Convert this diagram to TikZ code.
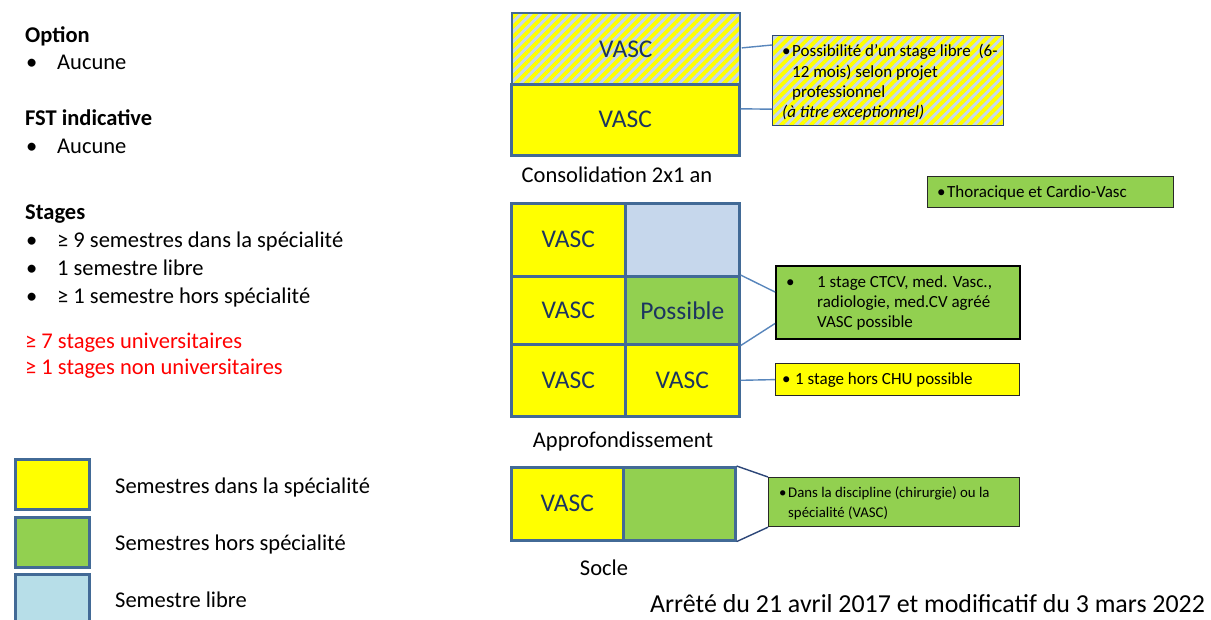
\documentclass[tikz,border=0pt]{standalone}
\usepackage{fontspec}
\setmainfont{Carlito}
\usetikzlibrary{patterns.meta}
\definecolor{vyellow}{RGB}{255,255,0}
\definecolor{vgreen}{RGB}{146,208,80}
\definecolor{vlblue}{RGB}{198,215,236}
\definecolor{vcyan}{RGB}{183,222,232}
\definecolor{vborder}{RGB}{66,106,150}
\definecolor{vtext}{RGB}{28,52,96}
\definecolor{vlink}{RGB}{88,134,188}
\definecolor{vlinkdark}{RGB}{44,70,120}
\definecolor{vred}{RGB}{255,0,0}
\definecolor{cborder}{RGB}{40,40,40}
\newcommand{\myfs}[1]{\fontsize{#1}{#1}\selectfont}
\begin{document}
\begin{tikzpicture}[x=1pt,y=-1pt,
  cell/.style={draw=vborder, line width=2.6pt, text=vtext, font=\myfs{25.5}, anchor=north west, inner sep=0pt},
  legbox/.style={draw=vborder, line width=2.6pt, anchor=north west, inner sep=0pt, minimum width=74pt},
  callbox/.style={draw=cborder, line width=1.2pt, anchor=north west, inner sep=0pt},
  hatch/.style={preaction={fill=vlblue}, pattern={Lines[angle=45,distance=7pt,line width=3.8pt]}, pattern color=vyellow},
  txt/.style={anchor=base west, inner sep=0pt},
  lab/.style={anchor=base, inner sep=0pt, font=\myfs{22.5}},
  link/.style={draw=vlink, line width=1.4pt},
  linkd/.style={draw=vlinkdark, line width=1.4pt}
]
\useasboundingbox (0,0) rectangle (1211,619);
\fill[white] (0,0) rectangle (1211,619);

% ---------- left column ----------
\begin{scope}[every node/.style={txt, font=\myfs{22.5}}]
\node[font=\myfs{22.5}\bfseries] (h1) at (25,42.5) {Option};
\node (b1) at (26,69) {•};
\node (t1) at (57,69) {Aucune};
\node[font=\myfs{22.5}\bfseries] (h2) at (25,125) {FST indicative};
\node (b2) at (26,153) {•};
\node (t2) at (57,153) {Aucune};
\node[font=\myfs{22.5}\bfseries] (h3) at (25,219) {Stages};
\node (b3) at (26,247) {•};
\node (t3) at (57,247) {≥ 9 semestres dans la spécialité};
\node (b4) at (26,275) {•};
\node (t4) at (57,275) {1 semestre libre};
\node (b5) at (26,303) {•};
\node (t5) at (57,303) {≥ 1 semestre hors spécialité};
\node[text=vred] (r1) at (25,348) {≥ 7 stages universitaires};
\node[text=vred] (r2) at (25,374) {≥ 1 stages non universitaires};
\end{scope}

% ---------- legend ----------
\node[legbox, fill=vyellow, minimum height=50pt] (l1) at (14,458) {};
\node[legbox, fill=vgreen, minimum height=50pt] (l2) at (14,516) {};
\node[legbox, fill=vcyan, minimum height=55pt] (l3) at (14,573) {};
\node[txt, font=\myfs{22.5}] (lt1) at (115,493) {Semestres dans la spécialité};
\node[txt, font=\myfs{22.5}] (lt2) at (115,550) {Semestres hors spécialité};
\node[txt, font=\myfs{22.5}] (lt3) at (115,607) {Semestre libre};

% ---------- consolidation ----------
\node[cell, hatch, minimum width=228pt, minimum height=72pt] (ctop) at (510,11) {VASC};
\node[cell, fill=vyellow, minimum width=228pt, minimum height=71pt] (cbot) at (510,83) {VASC};
\node[lab] (lcons) at (617,182) {Consolidation 2x1 an};

\node[callbox, hatch, draw=vlinkdark, minimum width=231pt, minimum height=90pt] (call1) at (772,35) {};
\begin{scope}[every node/.style={txt, font=\myfs{17}}]
\node (c1b) at (782,56) {•};
\node (c1a) at (792,56) {Possibilité d’un stage libre\ \ (6-};
\node (c1c) at (792,77) {12 mois) selon projet};
\node (c1d) at (792,97) {professionnel};
\node[font=\myfs{17}\itshape] (c1e) at (782,117) {(à titre exceptionnel)};
\end{scope}
\draw[link] ([yshift=1pt]ctop.east) -- ([yshift=-10pt]call1.north west);
\draw[link] ([yshift=11pt]cbot.east) -- ([yshift=17pt]call1.south west);

% ---------- thoracique ----------
\node[callbox, fill=vgreen, minimum width=246pt, minimum height=31pt] (thor) at (927,176) {};
\node[txt, font=\myfs{17}] (thb) at (937,197) {•};
\node[txt, font=\myfs{17}] (tht) at (947,197) {Thoracique et Cardio-Vasc};

% ---------- approfondissement ----------
\node[cell, fill=vyellow, minimum width=114pt, minimum height=73pt] (a11) at (510,202) {VASC};
\node[cell, fill=vlblue, minimum width=114pt, minimum height=73pt] (a12) at (624,202) {};
\node[cell, fill=vyellow, minimum width=114pt, minimum height=68pt] (a21) at (510,275) {VASC};
\node[cell, fill=vgreen, minimum width=114pt, minimum height=68pt] (a22) at (624,275) {Possible};
\node[cell, fill=vyellow, minimum width=114pt, minimum height=72pt] (a31) at (510,343) {VASC};
\node[cell, fill=vyellow, minimum width=114pt, minimum height=72pt] (a32) at (624,343) {VASC};
\node[lab] (lapp) at (623,447) {Approfondissement};

\node[callbox, fill=vgreen, line width=1.5pt, draw=black, minimum width=244pt, minimum height=73pt] (callg) at (775,265) {};
\begin{scope}[every node/.style={txt, font=\myfs{17}}]
\node (cgb) at (786,287) {•};
\node (cg1) at (817,287) {1 stage CTCV, med. Vasc.,};
\node (cg2) at (817,307) {radiologie, med.CV agréé};
\node (cg3) at (817,327) {VASC possible};
\end{scope}
\draw[link] (a22.north east) -- ([yshift=-27pt]callg.north west);
\draw[link] (a22.south east) -- ([yshift=16pt]callg.south west);

\node[callbox, fill=vyellow, minimum width=244pt, minimum height=32pt] (cally) at (775,363) {};
\node[txt, font=\myfs{17}] (cyb) at (782,384) {•};
\node[txt, font=\myfs{17}] (cyt) at (795,384) {1 stage hors CHU possible};
\draw[link] (a32.east) -- (cally.west);

% ---------- socle ----------
\node[cell, fill=vyellow, minimum width=112pt, minimum height=73pt] (s1) at (510,466) {VASC};
\node[cell, fill=vgreen, minimum width=112pt, minimum height=73pt] (s2) at (622,466) {};
\node[lab] (lsoc) at (604,575) {Socle};

\node[callbox, fill=vgreen, minimum width=251pt, minimum height=49pt] (calls) at (768,477) {};
\begin{scope}[every node/.style={txt, font=\myfs{14.8}}]
\node (csb) at (779,497) {•};
\node (cs1) at (788,497) {Dans la discipline (chirurgie) ou la};
\node (cs2) at (788,517) {spécialité (VASC)};
\end{scope}
\draw[linkd] (s2.north east) -- (calls.north west);
\draw[linkd] (s2.south east) -- (calls.south west);

% ---------- footer ----------
\node[txt, font=\myfs{25.9}] (foot) at (650,612) {Arrêté du 21 avril 2017 et modificatif du 3 mars 2022};
\end{tikzpicture}
\end{document}
